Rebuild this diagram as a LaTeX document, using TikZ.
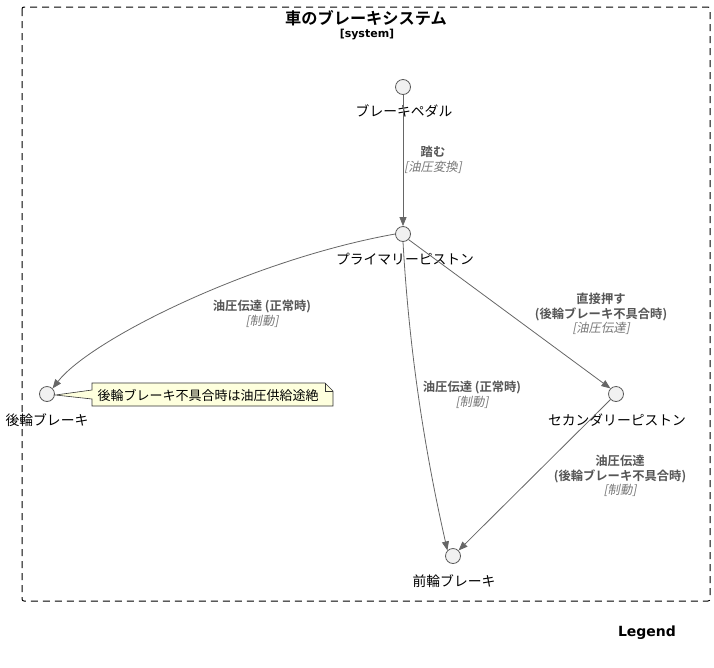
\documentclass[tikz,border=0pt]{standalone}
\usepackage{fontspec}
\setmainfont{Noto Sans CJK JP}[BoldFont={Noto Sans CJK JP Bold}]
\newfontfamily\jpit[FakeSlant=0.2]{Noto Sans CJK JP}
\newfontfamily\dvb{DejaVu Sans Bold}
\usetikzlibrary{arrows.meta}
\definecolor{edgec}{HTML}{666666}
\definecolor{circf}{HTML}{F1F1F1}
\definecolor{circd}{HTML}{5A5A5A}
\definecolor{lblc}{HTML}{555555}
\definecolor{stc}{HTML}{777777}
\definecolor{notef}{HTML}{FEFFDD}
\tikzset{
  comp/.style={circle,draw=circd,fill=circf,line width=0.8pt,minimum size=15pt,inner sep=0pt},
  nlabel/.style={font=\fontsize{13.8}{15}\selectfont,text=black,inner sep=0pt},
  elabel/.style={align=center,inner sep=0pt,font=\fontsize{12.3}{14.5}\selectfont},
  conn/.style={draw=edgec,line width=0.8pt,-{Triangle[length=9pt,width=7pt]}},
}
\newcommand{\lb}[1]{\textcolor{lblc}{\bfseries #1}}
\newcommand{\st}[1]{\textcolor{stc}{\jpit #1}}
\begin{document}
\begin{tikzpicture}[x=1pt,y=-1pt]
\useasboundingbox (0,0) rectangle (714,667);
% frame
\draw[dashed,dash pattern=on 7pt off 5pt,line width=1pt,rounded corners=2pt] (22,7) rectangle (710,601);
\node[inner sep=0pt,font=\fontsize{16.2}{18}\selectfont\bfseries] (title) at (366,18) {車のブレーキシステム};
\node[inner sep=0pt,font=\fontsize{11}{12}\selectfont\dvb] (stereo) at (367,35) {[system]};
% components
\node[comp] (pedal) at (403,87) {};
\node[nlabel] (pedalL) at (404,111) {ブレーキペダル};
\node[comp] (prim) at (403,234) {};
\node[nlabel] (primL) at (405,259) {プライマリーピストン};
\node[comp] (rear) at (47,394) {};
\node[nlabel] (rearL) at (47,420) {後輪ブレーキ};
\node[comp] (sec) at (616,394) {};
\node[nlabel] (secL) at (617,420) {セカンダリーピストン};
\node[comp] (front) at (453,556) {};
\node[nlabel] (frontL) at (454,581) {前輪ブレーキ};
% edges
\draw[conn] (pedal.south) -- (prim.north);
\node[elabel] (e1) at (433,160) {\lb{踏む}\\\st{[油圧変換]}};
\draw[conn] (prim.west) .. controls (250,260) and (90,340) .. (rear.north east);
\node[elabel] (e2) at (262,314) {\lb{油圧伝達 (正常時)}\\\st{[制動]}};
\draw[conn] (prim.south) .. controls (408,330) and (420,430) .. (front.north west);
\node[elabel] (e3) at (472,395) {\lb{油圧伝達 (正常時)}\\\st{[制動]}};
\draw[conn] (prim.south east) -- (sec.north west);
\node[elabel] (e4) at (601,314) {\lb{直接押す}\\\lb{(後輪ブレーキ不具合時)}\\\st{[油圧伝達]}};
\draw[conn] (sec.south west) -- (front.north east);
\node[elabel] (e5) at (620,476) {\lb{油圧伝達}\\\lb{(後輪ブレーキ不具合時)}\\\st{[制動]}};
% note
\coordinate (tip) at (55.5,395);
\draw[fill=notef,draw=black!80,line width=0.6pt] (92,383) -- (325,383) -- (333,391) -- (333,406) -- (92,406) -- (92,399) -- (tip) -- (92,390) -- cycle;
\draw[draw=black!80,line width=0.6pt] (325,383) -- (325,391) -- (333,391);
\node[inner sep=0pt,font=\fontsize{13}{14}\selectfont] (noteT) at (208,395) {後輪ブレーキ不具合時は油圧供給途絶};
\node[inner sep=0pt,font=\fontsize{14}{15}\selectfont\dvb] (legend) at (647,633) {Legend};
\end{tikzpicture}
\end{document}
